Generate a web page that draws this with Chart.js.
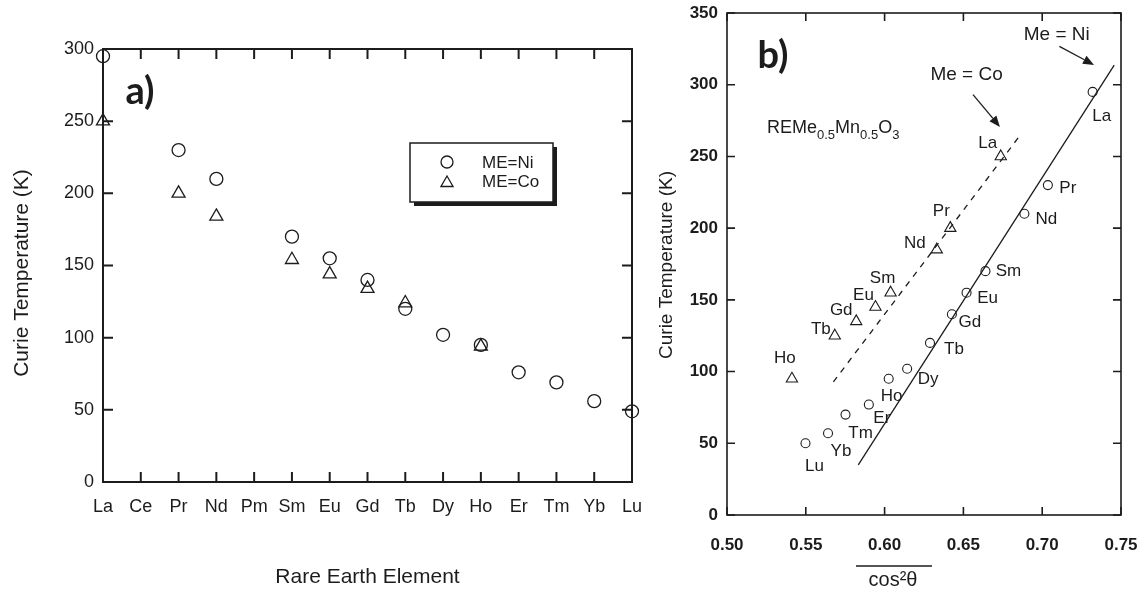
<!DOCTYPE html>
<html><head><meta charset="utf-8">
<script src="https://cdn.jsdelivr.net/npm/chart.js@4.4.0/dist/chart.umd.min.js"></script>
<style>
html,body{margin:0;padding:0;background:#fff;width:1139px;height:594px;overflow:hidden;}
canvas{position:absolute;top:0;}
#ca{left:0;} #cb{left:640px;}
</style></head><body>
<canvas id="ca" width="660" height="594"></canvas>
<canvas id="cb" width="499" height="594"></canvas>
<script>
// ---------- Panel a data ----------
const elements = ['La','Ce','Pr','Nd','Pm','Sm','Eu','Gd','Tb','Dy','Ho','Er','Tm','Yb','Lu'];
const tcNiA = [295,null,230,210,null,170,155,140,120,102,95,76,69,56,49];
const tcCoA = [250,null,200,184,null,154,144,134,124,null,94,null,null,null,null];
const yTicksA = [0,50,100,150,200,250,300];

// ---------- Panel b data ----------
const niNamesB = ['La','Pr','Nd','Sm','Eu','Gd','Tb','Dy','Ho','Er','Tm','Yb','Lu'];
const niCosB = [0.732,0.7036,0.6887,0.664,0.652,0.6427,0.6288,0.6143,0.6026,0.590,0.5752,0.5641,0.5498];
const niTcB = [295,230,210,170,155,140,120,102,95,77,70,57,50];
const coNamesB = ['La','Pr','Nd','Sm','Eu','Gd','Tb','Ho'];
const coCosB = [0.6737,0.6417,0.6331,0.6038,0.5942,0.582,0.5684,0.5412];
const coTcB = [250,200,185,155,145,135,125,95];
const niFitCos = [0.5833,0.7457];
const niFitTc = [35,313.7];
const coFitCos = [0.5675,0.6859];
const coFitTc = [92.8,264.6];
const xTicksB = [0.50,0.55,0.60,0.65,0.70,0.75];
const yTicksB = [0,50,100,150,200,250,300,350];

const INK = '#1c1c1c';
const FONT = '"Liberation Sans", Arial, Helvetica, sans-serif';

function drawMarker(ctx, style, x, y, r, lw){
  ctx.save(); ctx.strokeStyle = INK; ctx.lineWidth = lw; ctx.beginPath();
  if (style === 'circle') { ctx.arc(x, y, r, 0, Math.PI*2); }
  else {
    let a = -Math.PI/2;
    for (let k=0;k<3;k++){ const px = x + Math.cos(a)*r, py = y + Math.sin(a)*r; k?ctx.lineTo(px,py):ctx.moveTo(px,py); a += 2*Math.PI/3; }
    ctx.closePath();
  }
  ctx.stroke(); ctx.restore();
}

function frameAndTicks(chart, len, lw){
  const {ctx, chartArea:a, scales:{x, y}} = chart;
  ctx.save(); ctx.strokeStyle = INK; ctx.lineWidth = lw;
  ctx.strokeRect(a.left, a.top, a.right-a.left, a.bottom-a.top);
  ctx.beginPath();
  x.ticks.forEach((t,i)=>{ const px = x.getPixelForTick(i);
    ctx.moveTo(px, a.bottom); ctx.lineTo(px, a.bottom-len);
    ctx.moveTo(px, a.top); ctx.lineTo(px, a.top+len); });
  y.ticks.forEach((t,i)=>{ const py = y.getPixelForTick(i);
    ctx.moveTo(a.left, py); ctx.lineTo(a.left+len, py);
    ctx.moveTo(a.right, py); ctx.lineTo(a.right-len, py); });
  ctx.stroke(); ctx.restore();
}

function text(ctx, s, x, y, font, align, base, rot){
  ctx.save(); ctx.fillStyle = INK; ctx.font = font; ctx.textAlign = align||'center'; ctx.textBaseline = base||'middle';
  ctx.translate(x, y); if (rot) ctx.rotate(rot); ctx.fillText(s, 0, 0); ctx.restore();
}

function fixBox(s, w, h){
  if (w !== undefined) s.width = w;
  if (h !== undefined) s.height = h;
  s.paddingLeft = 0; s.paddingRight = 0; s.paddingTop = 0; s.paddingBottom = 0;
}

// ---------- Chart a ----------
const decorA = {
  id:'decorA',
  beforeDatasetsDraw(chart){ frameAndTicks(chart, 10, 2); },
  afterDraw(chart){
    const ctx = chart.ctx, a = chart.chartArea;
    text(ctx, 'Curie Temperature (K)', 22, 273, '21px '+FONT, 'center', 'middle', -Math.PI/2);
    text(ctx, 'Rare Earth Element', (a.left+a.right)/2, 577, '21px '+FONT);
    text(ctx, 'a)', 140, 92, 'bold 38px Lato, "Open Sans", sans-serif');
    ctx.save();
    ctx.fillStyle = INK; ctx.fillRect(414, 147, 143, 59);
    ctx.fillStyle = '#fff'; ctx.fillRect(410, 143, 143, 59);
    ctx.strokeStyle = INK; ctx.lineWidth = 1.5; ctx.strokeRect(410, 143, 143, 59);
    ctx.restore();
    drawMarker(ctx, 'circle', 447, 162, 6, 1.3);
    drawMarker(ctx, 'triangle', 447, 183, 7, 1.3);
    text(ctx, chart.data.datasets[0].label, 482, 163, '17px '+FONT, 'left');
    text(ctx, chart.data.datasets[1].label, 482, 182, '17px '+FONT, 'left');
  }
};

new Chart(document.getElementById('ca'), {
  type:'line',
  data:{ labels: elements, datasets:[
    {label:'ME=Ni', data:tcNiA, showLine:false, pointStyle:'circle', pointRadius:6.5, pointBorderWidth:1.3,
     borderColor:INK, pointBorderColor:INK, pointBackgroundColor:'rgba(0,0,0,0)', clip:false},
    {label:'ME=Co', data:tcCoA, showLine:false, pointStyle:'triangle', pointRadius:7.5, pointBorderWidth:1.3,
     borderColor:INK, pointBorderColor:INK, pointBackgroundColor:'rgba(0,0,0,0)', clip:false}
  ]},
  options:{
    responsive:false, animation:false, devicePixelRatio:1,
    layout:{ padding:{top:49, right:28, left:0, bottom:0}, autoPadding:false },
    plugins:{ legend:{display:false}, tooltip:{enabled:false} },
    scales:{
      x:{ type:'category', offset:false, grid:{display:false, drawTicks:false}, border:{display:false},
          ticks:{ color:INK, font:{family:FONT, size:18}, padding:14, autoSkip:false, maxRotation:0 },
          afterFit(s){ fixBox(s, undefined, 112); } },
      y:{ min:yTicksA[0], max:yTicksA[yTicksA.length-1], grid:{display:false, drawTicks:false}, border:{display:false},
          afterBuildTicks(s){ s.ticks = yTicksA.map(v=>({value:v})); },
          ticks:{ color:INK, font:{family:FONT, size:18}, padding:9 },
          afterFit(s){ fixBox(s, 103); } }
    }
  },
  plugins:[decorA]
});

// ---------- Chart b ----------
const niLabelOffsets = [[9,24],[20,3],[22,6],[23,0],[21,6],[18,8],[24,6],[21,11],[3,18],[13,14],[15,19],[13,18],[9,23]];
const coLabelOffsets = [[-13,-13],[-9,-17],[-22,-6],[-8,-14],[-12,-12],[-15,-11],[-14,-6],[-7,-20]];
const annotations = [
  {text:'Me = Ni', tx:0.7092, ty:335, from:[0.7109,326.7], to:[0.7329,313.8]},
  {text:'Me = Co', tx:0.652, ty:306.8, from:[0.6561,293.1], to:[0.6732,270.6]}
];

function arrow(ctx, x1, y1, x2, y2){
  const ang = Math.atan2(y2-y1, x2-x1), L = 11, W = 4.5;
  const bx = x2 - Math.cos(ang)*L, by = y2 - Math.sin(ang)*L;
  ctx.save(); ctx.strokeStyle = INK; ctx.fillStyle = INK; ctx.lineWidth = 1.3;
  ctx.beginPath(); ctx.moveTo(x1,y1); ctx.lineTo(bx,by); ctx.stroke();
  ctx.beginPath(); ctx.moveTo(x2,y2);
  ctx.lineTo(bx + Math.sin(ang)*W, by - Math.cos(ang)*W);
  ctx.lineTo(bx - Math.sin(ang)*W, by + Math.cos(ang)*W);
  ctx.closePath(); ctx.fill(); ctx.restore();
}

const decorB = {
  id:'decorB',
  beforeDatasetsDraw(chart){ frameAndTicks(chart, 8, 1.6); },
  afterDraw(chart){
    const ctx = chart.ctx, x = chart.scales.x, y = chart.scales.y;
    const lf = '17px '+FONT;
    niNamesB.forEach((n,i)=>{ const px = x.getPixelForValue(niCosB[i]), py = y.getPixelForValue(niTcB[i]);
      text(ctx, n, px+niLabelOffsets[i][0], py+niLabelOffsets[i][1], lf); });
    coNamesB.forEach((n,i)=>{ const px = x.getPixelForValue(coCosB[i]), py = y.getPixelForValue(coTcB[i]);
      text(ctx, n, px+coLabelOffsets[i][0], py+coLabelOffsets[i][1], lf); });
    annotations.forEach(an=>{
      text(ctx, an.text, x.getPixelForValue(an.tx), y.getPixelForValue(an.ty), '19px '+FONT);
      arrow(ctx, x.getPixelForValue(an.from[0]), y.getPixelForValue(an.from[1]), x.getPixelForValue(an.to[0]), y.getPixelForValue(an.to[1]));
    });
    ctx.save(); ctx.fillStyle = INK; ctx.textBaseline = 'alphabetic'; ctx.textAlign = 'left';
    let cx = 127; const by = 133;
    [['REMe',0],['0.5',1],['Mn',0],['0.5',1],['O',0],['3',1]].forEach(([s,sub])=>{
      ctx.font = sub ? '13px '+FONT : '18px '+FONT;
      ctx.fillText(s, cx, sub ? by+6 : by); cx += ctx.measureText(s).width;
    });
    ctx.restore();
    text(ctx, 'Curie Temperature (K)', 27, 265, '19px '+FONT, 'center', 'middle', -Math.PI/2);
    text(ctx, 'cos²θ', 253, 580, '20px '+FONT);
    ctx.save(); ctx.strokeStyle = INK; ctx.lineWidth = 1.5; ctx.beginPath(); ctx.moveTo(216, 566); ctx.lineTo(292, 566); ctx.stroke(); ctx.restore();
    text(ctx, 'b)', 133, 56, 'bold 38px Lato, "Open Sans", sans-serif');
  }
};

const ptsNi = niCosB.map((v,i)=>({x:v, y:niTcB[i]}));
const ptsCo = coCosB.map((v,i)=>({x:v, y:coTcB[i]}));
new Chart(document.getElementById('cb'), {
  type:'scatter',
  data:{ datasets:[
    {label:'Me = Ni fit', data:niFitCos.map((v,i)=>({x:v,y:niFitTc[i]})), showLine:true, pointRadius:0, borderColor:INK, borderWidth:1.3},
    {label:'Me = Co fit', data:coFitCos.map((v,i)=>({x:v,y:coFitTc[i]})), showLine:true, pointRadius:0, borderColor:INK, borderWidth:1.3, borderDash:[6,6]},
    {label:'Me = Ni', data:ptsNi, pointStyle:'circle', pointRadius:4.5, pointBorderWidth:1.1, pointBorderColor:INK, pointBackgroundColor:'#fff'},
    {label:'Me = Co', data:ptsCo, pointStyle:'triangle', pointRadius:6.5, pointBorderWidth:1.1, pointBorderColor:INK, pointBackgroundColor:'rgba(0,0,0,0)'}
  ]},
  options:{
    responsive:false, animation:false, devicePixelRatio:1,
    layout:{ padding:{top:13, right:18, left:0, bottom:0}, autoPadding:false },
    plugins:{ legend:{display:false}, tooltip:{enabled:false} },
    scales:{
      x:{ type:'linear', min:xTicksB[0], max:xTicksB[xTicksB.length-1], grid:{display:false, drawTicks:false}, border:{display:false},
          afterBuildTicks(s){ s.ticks = xTicksB.map(v=>({value:v})); },
          ticks:{ color:INK, font:{family:FONT, size:17, weight:'bold'}, padding:20, callback:v=>Number(v).toFixed(2) },
          afterFit(s){ fixBox(s, undefined, 79); } },
      y:{ min:yTicksB[0], max:yTicksB[yTicksB.length-1], grid:{display:false, drawTicks:false}, border:{display:false},
          afterBuildTicks(s){ s.ticks = yTicksB.map(v=>({value:v})); },
          ticks:{ color:INK, font:{family:FONT, size:17, weight:'bold'}, padding:9 },
          afterFit(s){ fixBox(s, 87); } }
    }
  },
  plugins:[decorB]
});
</script>
</body></html>
